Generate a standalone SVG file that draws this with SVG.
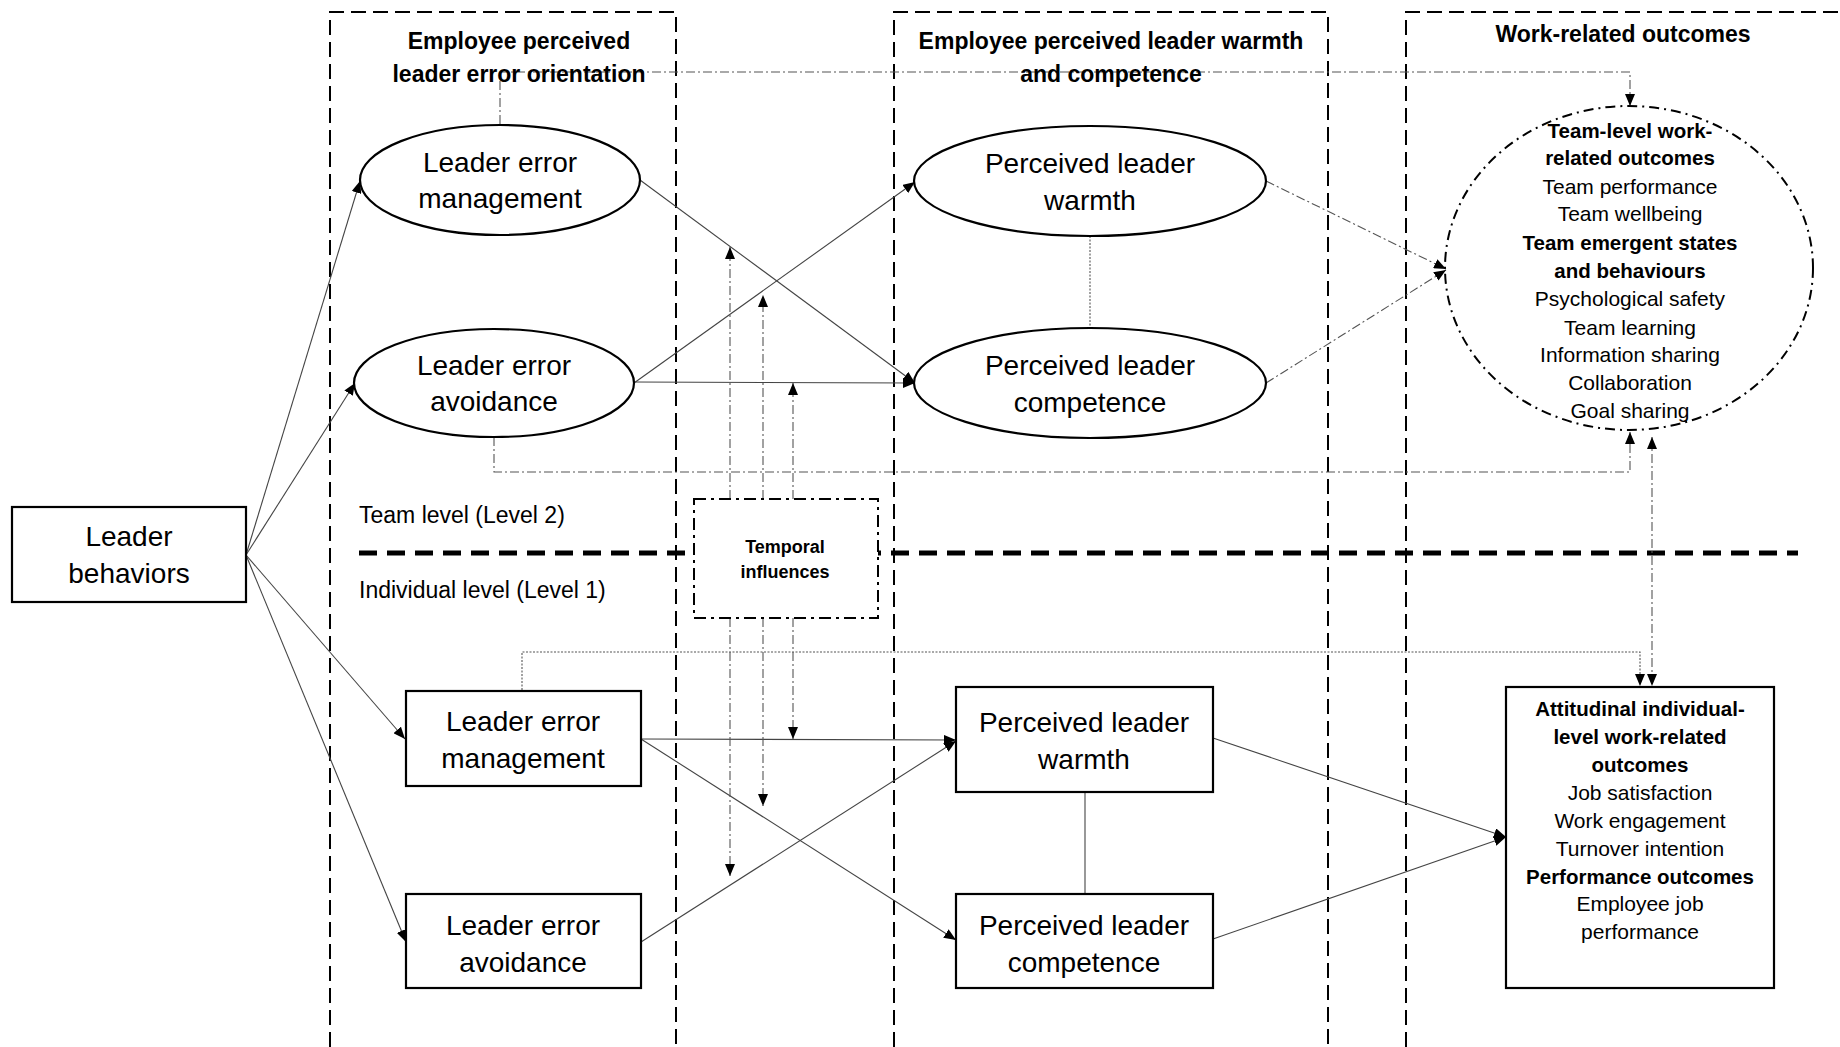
<svg xmlns="http://www.w3.org/2000/svg" width="1840" height="1047" viewBox="0 0 1840 1047">
<defs>
<marker id="arr" markerUnits="userSpaceOnUse" markerWidth="13" markerHeight="10" refX="12" refY="5" orient="auto-start-reverse"><path d="M0,0 L12,5 L0,10 z" fill="#000"/></marker>
<style>
text{font-family:"Liberation Sans",Arial,sans-serif;fill:#000;text-anchor:middle;dominant-baseline:central}
.big{font-size:28px}
.hdr{font-size:23px;font-weight:bold}
.lvl{font-size:23px;text-anchor:start}
.sm{font-size:21px}
.smb{font-size:20.5px;font-weight:bold}
.node{fill:#fff;stroke:#000;stroke-width:2.2}
.col{fill:none;stroke:#000;stroke-width:2;stroke-dasharray:15 7}
.solid{fill:none;stroke:#444;stroke-width:1.1}
.dd{fill:none;stroke:#555;stroke-width:1.1;stroke-dasharray:9 3 2 3}
.dot{fill:none;stroke:#555;stroke-width:1.1;stroke-dasharray:2 1.5}
</style>
</defs>
<rect width="1840" height="1047" fill="#fff"/>
<g id="columns">
<polyline class="col" points="330,1047 330,12 676,12 676,1047"/>
<polyline class="col" points="894,1047 894,12 1328,12 1328,1047"/>
<polyline class="col" points="1406,1047 1406,12 1840,12"/>
<line x1="359" y1="553" x2="1798" y2="553" stroke="#000" stroke-width="5" stroke-dasharray="18 10"/>
</g>
<g id="connectors">
<line class="solid" x1="246" y1="555" x2="360" y2="181" marker-end="url(#arr)"/>
<line class="solid" x1="246" y1="555" x2="355" y2="383" marker-end="url(#arr)"/>
<line class="solid" x1="246" y1="555" x2="405" y2="739" marker-end="url(#arr)"/>
<line class="solid" x1="246" y1="555" x2="406" y2="942" marker-end="url(#arr)"/>
<line class="solid" x1="640" y1="180" x2="915" y2="383" marker-end="url(#arr)"/>
<line class="solid" x1="634" y1="383" x2="915" y2="182" marker-end="url(#arr)"/>
<line class="solid" x1="634" y1="382" x2="915" y2="383" marker-end="url(#arr)"/>
<line class="dot" x1="1090" y1="236" x2="1090" y2="328"/>
<line class="dd" x1="1266" y1="181" x2="1446" y2="269" marker-end="url(#arr)"/>
<line class="dd" x1="1266" y1="383" x2="1446" y2="270" marker-end="url(#arr)"/>
<polyline class="dd" points="500,124 500,72 1630,72 1630,106" marker-end="url(#arr)"/>
<polyline class="dd" points="494,437 494,472 1630,472 1630,432" marker-end="url(#arr)"/>
<line class="dd" x1="1652" y1="437" x2="1652" y2="686" marker-start="url(#arr)" marker-end="url(#arr)"/>
<polyline class="dot" points="522,690 522,652 1640,652 1640,686" marker-end="url(#arr)"/>
<line class="solid" x1="641" y1="739" x2="956" y2="740" marker-end="url(#arr)"/>
<line class="solid" x1="641" y1="739" x2="956" y2="940" marker-end="url(#arr)"/>
<line class="solid" x1="641" y1="942" x2="956" y2="741" marker-end="url(#arr)"/>
<line class="solid" x1="1085" y1="792" x2="1085" y2="893"/>
<line class="solid" x1="1213" y1="738" x2="1506" y2="837" marker-end="url(#arr)"/>
<line class="solid" x1="1213" y1="939" x2="1506" y2="837" marker-end="url(#arr)"/>
<line class="dd" x1="730" y1="499" x2="730" y2="247" marker-end="url(#arr)"/>
<line class="dd" x1="763" y1="499" x2="763" y2="295" marker-end="url(#arr)"/>
<line class="dd" x1="793" y1="499" x2="793" y2="383" marker-end="url(#arr)"/>
<line class="dd" x1="730" y1="618" x2="730" y2="876" marker-end="url(#arr)"/>
<line class="dd" x1="763" y1="618" x2="763" y2="806" marker-end="url(#arr)"/>
<line class="dd" x1="793" y1="618" x2="793" y2="739" marker-end="url(#arr)"/>
</g>
<g id="headers">
<text class="hdr" x="519" y="41">Employee perceived</text>
<text class="hdr" x="519" y="74">leader error orientation</text>
<text class="hdr" x="1111" y="41">Employee perceived leader warmth</text>
<text class="hdr" x="1111" y="74">and competence</text>
<text class="hdr" x="1623" y="34">Work-related outcomes</text>
<text class="lvl" x="359" y="515">Team level (Level 2)</text>
<text class="lvl" x="359" y="590">Individual level (Level 1)</text>
</g>
<g id="leader-behaviors">
<rect class="node" x="12" y="507" width="234" height="95"/>
<text class="big" x="129" y="536">Leader</text>
<text class="big" x="129" y="573">behaviors</text>
</g>
<g id="team-lem">
<ellipse class="node" cx="500" cy="180" rx="140" ry="55"/>
<text class="big" x="500" y="162">Leader error</text>
<text class="big" x="500" y="198">management</text>
</g>
<g id="team-lea">
<ellipse class="node" cx="494" cy="383" rx="140" ry="54"/>
<text class="big" x="494" y="365">Leader error</text>
<text class="big" x="494" y="401">avoidance</text>
</g>
<g id="team-plw">
<ellipse class="node" cx="1090" cy="181" rx="176" ry="55"/>
<text class="big" x="1090" y="163">Perceived leader</text>
<text class="big" x="1090" y="200">warmth</text>
</g>
<g id="team-plc">
<ellipse class="node" cx="1090" cy="383" rx="176" ry="55"/>
<text class="big" x="1090" y="365">Perceived leader</text>
<text class="big" x="1090" y="402">competence</text>
</g>
<g id="team-outcomes">
<ellipse cx="1629" cy="268" rx="184" ry="162" fill="none" stroke="#000" stroke-width="2" stroke-dasharray="10 5 2 5"/>
<text class="smb" x="1630" y="130">Team-level work-</text>
<text class="smb" x="1630" y="157">related outcomes</text>
<text class="sm" x="1630" y="186">Team performance</text>
<text class="sm" x="1630" y="213">Team wellbeing</text>
<text class="smb" x="1630" y="242">Team emergent states</text>
<text class="smb" x="1630" y="270">and behaviours</text>
<text class="sm" x="1630" y="298">Psychological safety</text>
<text class="sm" x="1630" y="327">Team learning</text>
<text class="sm" x="1630" y="354">Information sharing</text>
<text class="sm" x="1630" y="382">Collaboration</text>
<text class="sm" x="1630" y="410">Goal sharing</text>
</g>
<g id="temporal">
<rect x="694" y="499" width="184" height="119" fill="#fff" stroke="#000" stroke-width="2" stroke-dasharray="12 5 3 5"/>
<text x="785" y="547" style="font-size:18px;font-weight:bold">Temporal</text>
<text x="785" y="572" style="font-size:18px;font-weight:bold">influences</text>
</g>
<g id="ind-lem">
<rect class="node" x="406" y="691" width="235" height="95"/>
<text class="big" x="523" y="721">Leader error</text>
<text class="big" x="523" y="758">management</text>
</g>
<g id="ind-lea">
<rect class="node" x="406" y="894" width="235" height="94"/>
<text class="big" x="523" y="925">Leader error</text>
<text class="big" x="523" y="962">avoidance</text>
</g>
<g id="ind-plw">
<rect class="node" x="956" y="687" width="257" height="105"/>
<text class="big" x="1084" y="722">Perceived leader</text>
<text class="big" x="1084" y="759">warmth</text>
</g>
<g id="ind-plc">
<rect class="node" x="956" y="894" width="257" height="94"/>
<text class="big" x="1084" y="925">Perceived leader</text>
<text class="big" x="1084" y="962">competence</text>
</g>
<g id="ind-outcomes">
<rect class="node" x="1506" y="687" width="268" height="301"/>
<text class="smb" x="1640" y="708">Attitudinal individual-</text>
<text class="smb" x="1640" y="736">level work-related</text>
<text class="smb" x="1640" y="764">outcomes</text>
<text class="sm" x="1640" y="792">Job satisfaction</text>
<text class="sm" x="1640" y="820">Work engagement</text>
<text class="sm" x="1640" y="848">Turnover intention</text>
<text class="smb" x="1640" y="876">Performance outcomes</text>
<text class="sm" x="1640" y="903">Employee job</text>
<text class="sm" x="1640" y="931">performance</text>
</g>
</svg>
